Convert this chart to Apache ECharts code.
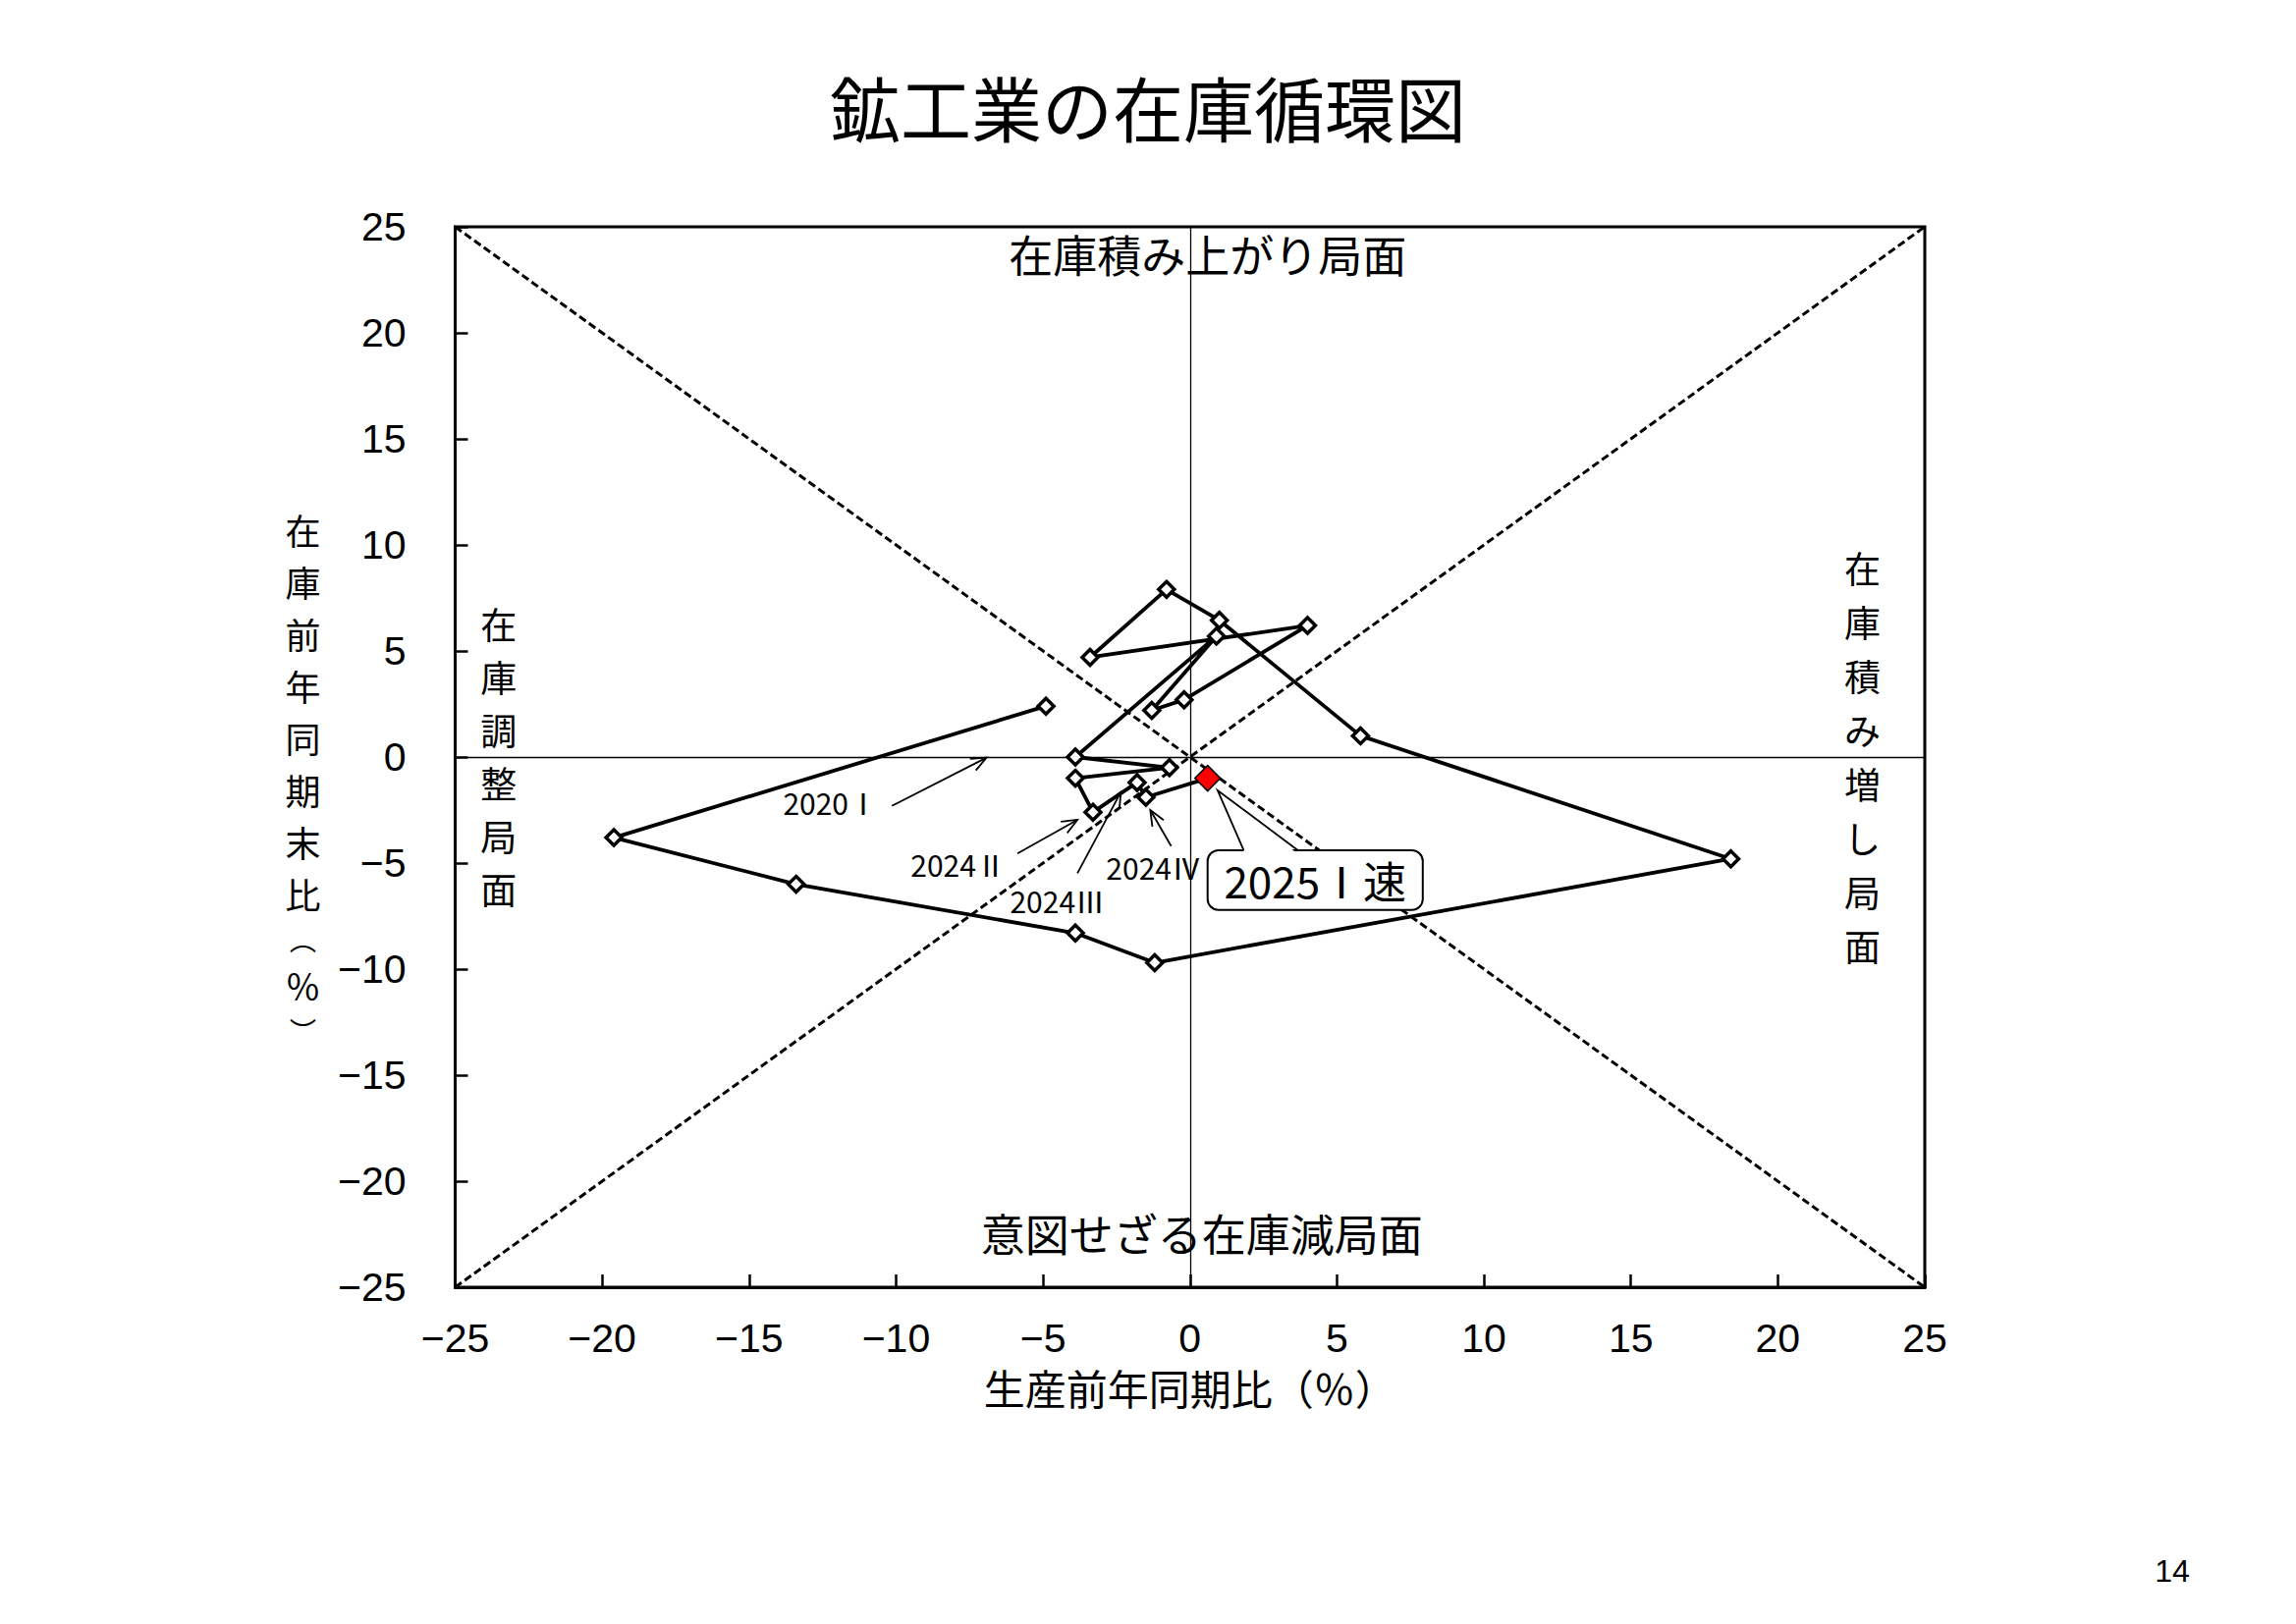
<!DOCTYPE html>
<html>
<head>
<meta charset="utf-8">
<script src="https://cdn.jsdelivr.net/npm/echarts@6/dist/echarts.min.js"></script>
<style>
html,body{margin:0;padding:0;background:#fff;}
#chart{width:2338px;height:1654px;}
</style>
</head>
<body>
<div id="chart"></div>
<script>
// ---------------- data ----------------
const quarters = ['2020Ⅰ','2020Ⅱ','2020Ⅲ','2020Ⅳ','2021Ⅰ','2021Ⅱ','2021Ⅲ','2021Ⅳ',
  '2022Ⅰ','2022Ⅱ','2022Ⅲ','2022Ⅳ','2023Ⅰ','2023Ⅱ','2023Ⅲ','2023Ⅳ',
  '2024Ⅰ','2024Ⅱ','2024Ⅲ','2024Ⅳ','2025Ⅰ'];
// 生産前年同期比（％）
const production = [-4.9, -19.6, -13.4, -3.9, -1.2, 18.4, 5.8, 1.0,
  -0.8, -3.4, 4.0, -0.2, -1.3, 0.9, -3.9, -0.7,
  -3.9, -3.3, -1.8, -1.5, 0.6];
// 在庫前年同期末比（％）
const inventory = [2.4, -3.8, -6.0, -8.3, -9.7, -4.8, 1.0, 6.45,
  7.9, 4.7, 6.2, 2.7, 2.2, 5.7, 0.0, -0.5,
  -1.0, -2.6, -1.2, -1.9, -1.0];
const axisMin = -25, axisMax = 25, axisStep = 5;
const titleText = '鉱工業の在庫循環図';
const xAxisName = '生産前年同期比（％）';
const yAxisNameChars = ['在','庫','前','年','同','期','末','比','︵','％','︶'];
const phaseTop = '在庫積み上がり局面';
const phaseBottom = '意図せざる在庫減局面';
const phaseLeft = '在庫調整局面';
const phaseRight = '在庫積み増し局面';
const pageNumber = '14';

// ---------------- annotation layout (data coords) ----------------
const layout = {
  top: [0.6, 23.75], bottom: [0.4, -22.43], left: [-23.52, 0.05], right: [22.88, 0.02],
  pointers: [
    {idx: 0,  at: [-12.23, -2.12], from: [-10.14, -2.30], to: [-6.92, -0.03]},
    {idx: 17, at: [-7.89, -5.05],  from: [-5.87, -4.55],  to: [-3.83, -2.96]},
    {idx: 18, at: [-4.51, -6.75],  from: [-3.83, -5.48],  to: [-2.35, -1.65]},
    {idx: 19, at: [-1.24, -5.20],  from: [-0.64, -4.20],  to: [-1.35, -2.50]}
  ],
  callout: {idx: 20, suffix: '速', x0: 0.60, y0: -4.40, x1: 7.92, y1: -7.21,
            bx1: 1.83, bx2: 3.67, tip: [0.94, -1.57], text: [4.26, -5.79]}
};

const JP = "'Noto Sans CJK JP', sans-serif";
const NUM = "'Liberation Sans', Arial, sans-serif";
const minusFmt = v => (v < 0 ? '\u2212' + Math.abs(v) : String(v));

const chart = echarts.init(document.getElementById('chart'), null, {renderer: 'svg'});

const last = quarters.length - 1;
const cycleData = quarters.map((q, i) => {
  if (i === last) {
    return {name: q, value: [production[i], inventory[i]], symbolSize: 26,
            itemStyle: {color: '#ff0000', borderColor: '#000', borderWidth: 1.5}};
  }
  return {name: q, value: [production[i], inventory[i]]};
});

const yName = yAxisNameChars.map(c => (c === '︵' || c === '︶') ? '{p|' + c + '}' : '{a|' + c + '}').join('\n');

const axisCommon = {
  type: 'value', min: axisMin, max: axisMax, interval: axisStep,
  splitLine: {show: false},
  axisLine: {show: true, onZero: false, lineStyle: {color: '#000', width: 3}},
  axisTick: {show: true, inside: true, length: 13, lineStyle: {color: '#000', width: 2.5}},
  nameLocation: 'middle'
};

chart.setOption({
  animation: false,
  backgroundColor: '#fff',
  title: {
    text: titleText, left: 'center', top: 66,
    textStyle: {fontSize: 72, fontWeight: 'normal', fontFamily: JP, color: '#000'}
  },
  grid: {
    left: 463.5, top: 231, width: 1496.5, height: 1080,
    show: true, borderColor: '#000', borderWidth: 3, backgroundColor: 'transparent',
    containLabel: false, outerBoundsMode: 'none'
  },
  xAxis: Object.assign({}, axisCommon, {
    axisLabel: {fontSize: 41, color: '#000', fontFamily: NUM, margin: 31, formatter: minusFmt,
                showMinLabel: true, showMaxLabel: true},
    name: xAxisName, nameGap: 101,
    nameTextStyle: {fontSize: 42, fontFamily: JP, color: '#000', verticalAlign: 'middle', align: 'center'}
  }),
  yAxis: Object.assign({}, axisCommon, {
    axisLabel: {fontSize: 41, color: '#000', fontFamily: NUM, margin: 50, formatter: minusFmt,
                showMinLabel: true, showMaxLabel: true},
    name: yName, nameGap: 155, nameRotate: 0,
    nameTextStyle: {
      fontSize: 36, fontFamily: JP, color: '#000', align: 'center', verticalAlign: 'middle',
      padding: [40, 0, 0, 0],
      rich: {
        a: {fontSize: 36, lineHeight: 53, fontFamily: JP, color: '#000'},
        p: {fontSize: 27, lineHeight: 40, fontFamily: JP, color: '#000'}
      }
    }
  }),
  series: [
    {
      type: 'line', silent: true, symbol: 'none', z: 1,
      data: [[axisMin, axisMax], [axisMax, axisMin]],
      lineStyle: {color: '#000', width: 3, type: [8, 4]},
      markLine: {
        silent: true, symbol: ['none', 'none'], label: {show: false},
        lineStyle: {color: '#000', width: 1.3, type: 'solid'},
        data: [{xAxis: 0}, {yAxis: 0}]
      }
    },
    {
      type: 'line', silent: true, symbol: 'none', z: 1,
      data: [[axisMin, axisMin], [axisMax, axisMax]],
      lineStyle: {color: '#000', width: 3, type: [8, 4]}
    },
    {
      type: 'line', name: '在庫循環', z: 5,
      data: cycleData,
      symbol: 'diamond', symbolSize: 16, showSymbol: true, showAllSymbol: true,
      itemStyle: {color: '#fff', borderColor: '#000', borderWidth: 3.5},
      lineStyle: {color: '#000', width: 3.8}
    }
  ]
});

// ---------------- annotations ----------------
function px(p) { return chart.convertToPixel({xAxisIndex: 0, yAxisIndex: 0}, p); }
const g = [];
function text(p, str, size, extra) {
  const q = px(p);
  g.push({type: 'text', x: q[0], y: q[1], z: 120,
    style: Object.assign({text: str, fill: '#000', fontSize: size, fontFamily: JP,
                          align: 'center', verticalAlign: 'middle'}, extra || {})});
}
function arrow(from, to) {
  const a = px(from), b = px(to);
  const ang = Math.atan2(b[1] - a[1], b[0] - a[0]);
  const L = 17, w = 0.4;
  const p1 = [b[0] - L * Math.cos(ang - w), b[1] - L * Math.sin(ang - w)];
  const p2 = [b[0] - L * Math.cos(ang + w), b[1] - L * Math.sin(ang + w)];
  g.push({type: 'line', z: 110, shape: {x1: a[0], y1: a[1], x2: b[0], y2: b[1]},
          style: {stroke: '#000', lineWidth: 1.8}});
  g.push({type: 'polyline', z: 110, shape: {points: [p1, b, p2]},
          style: {stroke: '#000', lineWidth: 1.8, fill: 'none'}});
}

text(layout.top, phaseTop, 45);
text(layout.bottom, phaseBottom, 45);
text(layout.left, phaseLeft.split('').join('\n'), 37, {lineHeight: 54});
text(layout.right, phaseRight.split('').join('\n'), 37, {lineHeight: 55});

layout.pointers.forEach(pt => {
  text(pt.at, quarters[pt.idx], 30);
  arrow(pt.from, pt.to);
});

// callout box for latest point
(function () {
  const c = layout.callout;
  const tl = px([c.x0, c.y0]), br = px([c.x1, c.y1]);
  const b1 = px([c.bx1, c.y0]), b2 = px([c.bx2, c.y0]);
  const tip = px(c.tip);
  g.push({type: 'rect', z: 100,
          shape: {x: tl[0], y: tl[1], width: br[0] - tl[0], height: br[1] - tl[1], r: 11},
          style: {fill: '#fff', stroke: '#000', lineWidth: 2}});
  g.push({type: 'polygon', z: 101,
          shape: {points: [[b1[0] + 1, b1[1] + 3], tip, [b2[0] - 1, b2[1] + 3]]},
          style: {fill: '#fff', stroke: null}});
  g.push({type: 'polyline', z: 102,
          shape: {points: [b1, tip, b2]},
          style: {stroke: '#000', lineWidth: 1.8, fill: 'none'}});
  text(c.text, quarters[c.idx] + c.suffix, 44);
})();

g.push({type: 'text', x: 2212, y: 1600, z: 120,
        style: {text: pageNumber, fill: '#000', fontSize: 32, fontFamily: NUM,
                align: 'center', verticalAlign: 'middle'}});

chart.setOption({graphic: g});
</script>
</body>
</html>
